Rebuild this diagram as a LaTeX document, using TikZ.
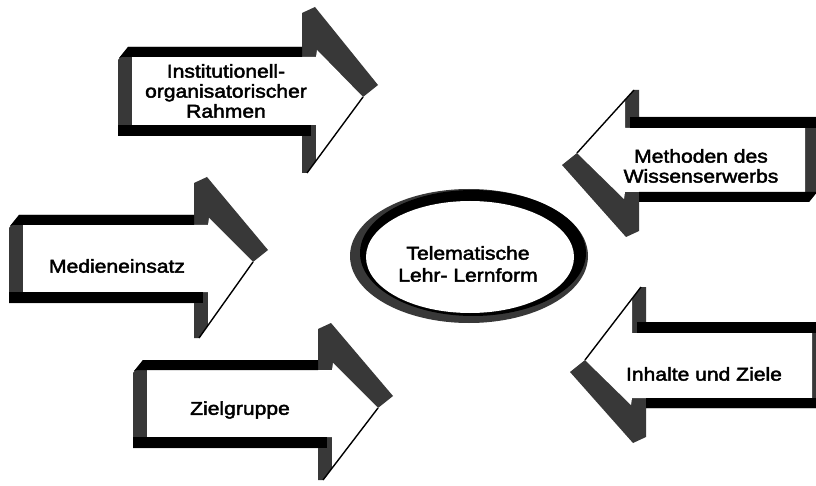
\documentclass[tikz,border=0pt]{standalone}
\usepackage{fontspec}
\setmainfont{Liberation Sans}[FakeStretch=1.14,FakeBold=2.4]
\usetikzlibrary{calc}
\definecolor{rimgray}{gray}{0.22}
\tikzset{
  lbl/.style={align=center,inner sep=0pt,font=\fontsize{18.5}{20}\selectfont},
}
% 3-D block arrow pointing right (local frame, y downwards)
% #1 body left, #2 body top, #3 body bottom, #4 head base,
% #5 tip x, #6 tip y, #7 outer head top, #8 head bottom
\newcommand\tdarrow[8]{%
  % dark extrusion silhouette
  \fill[rimgray] (#1-14,#2+3) -- (#1-4,#2-10) -- (#4-14,#2-10) -- (#4-14,#7+6)
    -- (#4-1,#7) -- (#5+15,#6-12) -- (#5,#6) -- (#4-9,#8) -- (#4-14,#8)
    -- (#4-14,#3+11) -- (#1-14,#3+11) -- cycle;
  % white front face
  \fill[white] (#1,#2) -- (#4,#2) -- (#4+1,#2-7) -- (#5,#6)
    -- ($(#5,#6)!{(#5-#4)/(#5-#4+9)}!(#4-9,#8)$) -- (#4,#3) -- (#1,#3) -- cycle;
  % thin lower edge of the head
  \draw[line width=1.4pt] (#5,#6) -- (#4-9,#8);
  % heavy black top and bottom edges of the shaft
  \fill[black] (#1-13,#2+1) -- (#1-4,#2-10) -- (#4-14,#2-10) -- (#4-14,#2) -- (#1-10,#2) -- cycle;
  \fill[black] (#1-14,#3) rectangle (#4-5,#3+11);
}
\begin{document}
\begin{tikzpicture}[x=1pt,y=-1pt]
\useasboundingbox[fill=white] (0,0) rectangle (816,486);

% arrows pointing to the centre from the left
\tdarrow{132}{57}{125}{316}{363}{97}{7}{173}
\tdarrow{23}{225}{292}{208}{253}{262}{177}{338}
\tdarrow{147}{370}{437}{332}{378}{408}{323}{480}

% arrows pointing to the centre from the right
\begin{scope}[shift={(1000,500)},rotate=180]
  \tdarrow{195}{308}{372}{375}{423}{347}{263}{410}
  \tdarrow{188}{102}{167}{368}{415}{140}{57}{213}
\end{scope}

% central ring
\fill[rimgray] (469,256) ellipse [x radius=119, y radius=67];
\fill[black] (473,253) ellipse [x radius=113, y radius=63];
\fill[white] (470,257) ellipse [x radius=104, y radius=56];

% labels
\node[lbl] (inst) at (226,91) {Institutionell-\\organisatorischer\\Rahmen};
\node[lbl] (medien) at (117,266) {Medieneinsatz};
\node[lbl] (ziel) at (240,410) {Zielgruppe};
\node[lbl] (meth) at (701,166) {Methoden des\\Wissenserwerbs};
\node[lbl] (inhalt) at (704,374) {Inhalte und Ziele};
\node[lbl,font=\fontsize{18.5}{22}\selectfont] (tele) at (468,264) {Telematische\\Lehr- Lernform};
\end{tikzpicture}
\end{document}
